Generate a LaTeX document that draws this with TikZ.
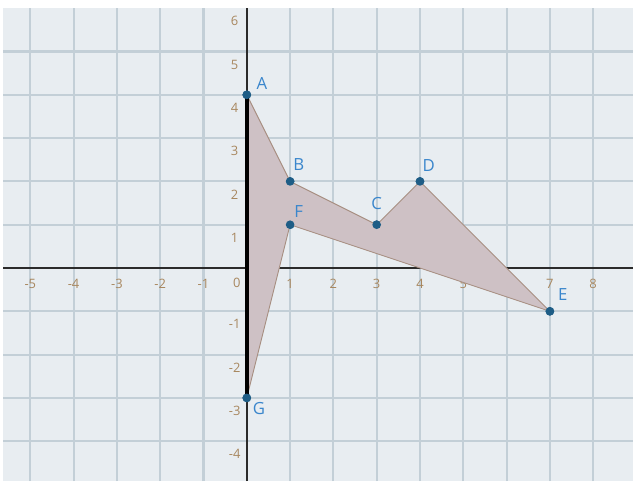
\documentclass[tikz,border=0pt]{standalone}
\usepackage{fontspec}
\setmainfont{Open Sans}
\usetikzlibrary{positioning}
\definecolor{PaperBg}{HTML}{E8EDF1}
\definecolor{GridBlue}{HTML}{C3CFD7}
\definecolor{AxisDark}{HTML}{2B2B2B}
\definecolor{ShapeFill}{HTML}{CEC1C5}
\definecolor{ShapeEdge}{HTML}{A89083}
\definecolor{PointBlue}{HTML}{1E5D86}
\definecolor{LabelBlue}{HTML}{3A86CC}
\definecolor{TickBrown}{HTML}{A8875F}

\begin{document}
\begin{tikzpicture}[
  x=1cm, y=1cm,
  gridline/.style={GridBlue, line width=1.4pt},
  axisline/.style={AxisDark, line width=1pt},
  pt/.style={circle, fill=PointBlue, inner sep=0pt, minimum size=0.2cm},
  ptlabel/.style={LabelBlue, font=\fontsize{11}{13}\selectfont, inner sep=0pt},
  ticklabel/.style={TickBrown, font=\fontsize{8.5}{10}\selectfont, inner sep=0pt}
]
\useasboundingbox (-5.70,-4.92) rectangle (8.92,6.19);
\fill[PaperBg] (-5.62,-4.92) rectangle (8.92,6.0);
% grid
\foreach \i in {-5,...,8}
  \draw[gridline] (\i,-4.92) -- (\i,6.0);
\foreach \j in {-4,...,5}
  \draw[gridline] (-5.62,\j) -- (8.92,\j);
% axes
\draw[axisline] (-5.62,0) -- (8.92,0);
\draw[axisline] (0,-4.92) -- (0,6.0);
% tick labels
\foreach \i in {-5,...,-1,1,2,...,8}
  \node[ticklabel] (tx\i) at (\i,-0.36) {\i};
\node[ticklabel] (tx0) at (-0.23,-0.34) {0};
\foreach \j in {-4,...,-1,1,2,...,6}
  \node[ticklabel] (ty\j) at (-0.28,\j-0.3) {\j};
% points
\node[pt] (A) at (0,4) {};
\node[pt] (B) at (1,2) {};
\node[pt] (C) at (3,1) {};
\node[pt] (D) at (4,2) {};
\node[pt] (E) at (7,-1) {};
\node[pt] (F) at (1,1) {};
\node[pt] (G) at (0,-3) {};
% shape
\fill[ShapeFill] (A.center) -- (B.center) -- (C.center) -- (D.center) -- (E.center)
  -- (F.center) -- (G.center) -- cycle;
\draw[ShapeEdge, line width=0.6pt] (A.center) -- (B.center) -- (C.center) -- (D.center)
  -- (E.center) -- (F.center) -- (G.center);
\draw[black, line width=2.6pt] (G.center) -- (A.center);
% redraw points on top
\foreach \p in {A,B,C,D,E,F,G}
  \fill[PointBlue] (\p) circle (0.1);
% point labels
\node[ptlabel] (lA) at (0.35,4.27) {A};
\node[ptlabel] (lB) at (1.2,2.4) {B};
\node[ptlabel] (lC) at (3,1.5) {C};
\node[ptlabel] (lD) at (4.2,2.37) {D};
\node[ptlabel] (lE) at (7.3,-0.62) {E};
\node[ptlabel] (lF) at (1.2,1.3) {F};
\node[ptlabel] (lG) at (0.28,-3.25) {G};
\end{tikzpicture}
\end{document}
